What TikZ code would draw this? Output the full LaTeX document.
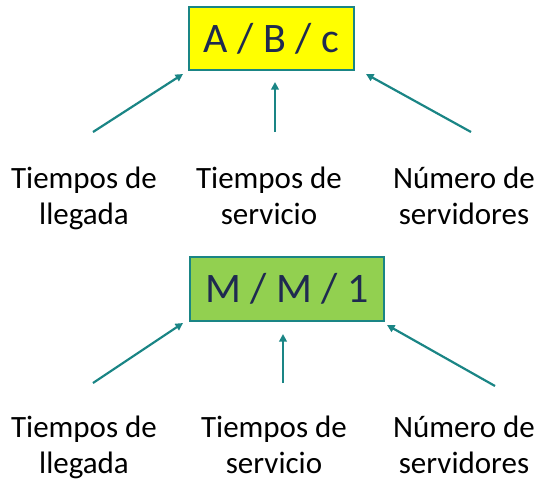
\documentclass[tikz,border=0pt]{standalone}
\usepackage{fontspec}
\setmainfont{Carlito}
\usetikzlibrary{arrows.meta}
\definecolor{arrowteal}{RGB}{26,133,133}
\definecolor{boxgreen}{RGB}{146,208,80}
\definecolor{boxyellow}{RGB}{255,255,0}
\definecolor{navytext}{RGB}{31,42,80}
\begin{document}
\begin{tikzpicture}[x=1pt,y=-1pt,
  label/.style={align=center,inner sep=0pt,anchor=base,font=\fontsize{31}{36}\selectfont,text=black},
  kbox/.style={draw=arrowteal,line width=2pt,inner sep=0pt,text height=27pt,text depth=0pt,
    font=\fontsize{42}{50}\selectfont,text=navytext},
  arr/.style={draw=arrowteal,line width=2.2pt,-{Triangle[length=7.5pt,width=7.5pt]}}]
\useasboundingbox (0,0) rectangle (549,480);
% top group
\node[kbox,fill=boxyellow,minimum width=165pt,minimum height=63pt] (box1) at (271.5,38.5) {A / B / c};
\node[label] (l1) at (84,224) {Tiempos de\\llegada};
\node[label] (s1) at (269,224) {Tiempos de\\servicio};
\node[label] (n1) at (464,224) {Número de\\servidores};
\coordinate (l1a) at (93,132); \coordinate (l1b) at (183,74);
\coordinate (s1a) at (275,132); \coordinate (s1b) at (275,82);
\coordinate (n1a) at (471,132); \coordinate (n1b) at (366,74);
\draw[arr] (l1a) -- (l1b);
\draw[arr] (s1a) -- (s1b);
\draw[arr] (n1a) -- (n1b);
% bottom group
\node[kbox,fill=boxgreen,minimum width=194pt,minimum height=64pt] (box2) at (287,289) {M / M / 1};
\node[label] (l2) at (84,473) {Tiempos de\\llegada};
\node[label] (s2) at (274,473) {Tiempos de\\servicio};
\node[label] (n2) at (464,473) {Número de\\servidores};
\coordinate (l2a) at (93,383); \coordinate (l2b) at (183,323);
\coordinate (s2a) at (283,383); \coordinate (s2b) at (283,334);
\coordinate (n2a) at (495,386); \coordinate (n2b) at (387,325);
\draw[arr] (l2a) -- (l2b);
\draw[arr] (s2a) -- (s2b);
\draw[arr] (n2a) -- (n2b);
\end{tikzpicture}
\end{document}
